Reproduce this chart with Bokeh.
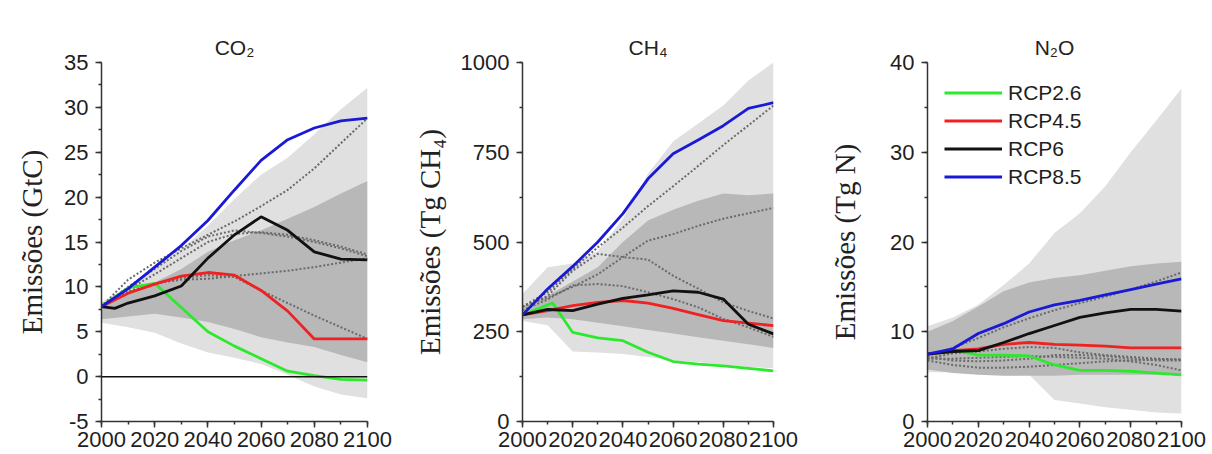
from bokeh.plotting import figure
from bokeh.layouts import row
from bokeh.models import SingleIntervalTicker, Span, Range1d, PrintfTickFormatter
from bokeh.embed import file_html
from bokeh.resources import INLINE

YEARS = [2000, 2010, 2020, 2030, 2040, 2050, 2060, 2070, 2080, 2090, 2100]
SCENARIOS = ["RCP2.6", "RCP4.5", "RCP6", "RCP8.5"]
TITLES = ["CO₂", "CH₄", "N₂O"]
YLABELS = ["Emissões (GtC)", "Emissões (Tg CH₄)", "Emissões (Tg N)"]

# ---------------- CO2 (GtC) ----------------
CO2_LIGHT_LO = [6.0, 5.5, 4.9, 3.7, 2.7, 2.1, 1.4, 0.2, -1.1, -2.0, -2.4]
CO2_LIGHT_HI = [8.3, 10.0, 12.2, 14.2, 16.8, 19.8, 22.5, 24.4, 27.0, 29.8, 32.2]
CO2_DARK_LO = [6.4, 6.7, 7.0, 6.6, 6.1, 5.3, 4.4, 3.8, 3.3, 2.4, 1.6]
CO2_DARK_HI = [8.2, 9.2, 10.5, 12.0, 13.9, 15.2, 16.3, 17.6, 18.9, 20.4, 21.8]
CO2_RCP26 = [7.8, 9.9, 10.4, 7.7, 5.0, 3.4, 2.0, 0.6, 0.1, -0.3, -0.4]
CO2_RCP45 = [7.8, 9.3, 10.3, 11.2, 11.6, 11.3, 9.6, 7.3, 4.2, 4.2, 4.2]
CO2_RCP6_YEARS = [2000, 2005, 2010, 2020, 2030, 2040, 2050, 2060, 2070, 2080, 2090, 2100]
CO2_RCP6 = [7.8, 7.6, 8.2, 9.0, 10.1, 13.2, 15.8, 17.8, 16.3, 13.9, 13.1, 13.0]
CO2_RCP85 = [7.8, 9.8, 12.2, 14.6, 17.4, 20.8, 24.1, 26.4, 27.7, 28.5, 28.8]
CO2_OTHER = [
    [7.8, 10.8, 12.7, 14.3, 15.8, 17.3, 19.0, 20.8, 23.2, 26.0, 28.8],
    [7.8, 10.0, 12.0, 14.0, 15.6, 16.3, 16.0, 15.6, 15.0, 14.3, 13.4],
    [7.8, 9.7, 11.4, 13.2, 15.0, 15.9, 16.1, 15.8, 15.2, 14.5, 13.6],
    [7.8, 9.5, 10.4, 10.8, 10.9, 11.2, 11.5, 11.8, 12.2, 12.7, 13.2],
    [7.8, 9.3, 10.3, 11.0, 11.3, 11.1, 9.6, 8.2, 6.8, 5.5, 4.2],
]

# ---------------- CH4 (Tg CH4) ----------------
CH4_LIGHT_LO = [280, 268, 195, 192, 188, 180, 170, 165, 158, 152, 148]
CH4_LIGHT_HI = [355, 430, 440, 475, 565, 690, 780, 830, 880, 950, 1000]
CH4_DARK_LO = [285, 290, 285, 275, 265, 255, 245, 235, 225, 215, 205]
CH4_DARK_HI = [320, 350, 390, 430, 500, 560, 590, 615, 635, 630, 635]
CH4_RCP26_YEARS = [2000, 2012, 2020, 2030, 2040, 2050, 2060, 2070, 2080, 2090, 2100]
CH4_RCP26 = [297, 330, 248, 233, 225, 193, 167, 160, 155, 148, 141]
CH4_RCP45 = [297, 309, 323, 332, 337, 330, 315, 298, 281, 274, 267]
CH4_RCP6 = [297, 312, 309, 327, 343, 353, 364, 360, 341, 271, 244]
CH4_RCP85 = [297, 369, 432, 500, 579, 676, 746, 784, 824, 872, 888]
CH4_OTHER = [
    [320, 360, 425, 485, 540, 600, 655, 712, 770, 825, 880],
    [320, 345, 375, 410, 458, 504, 522, 545, 565, 580, 595],
    [320, 350, 420, 467, 458, 451, 406, 370, 332, 308, 287],
    [310, 340, 379, 383, 377, 360, 341, 318, 286, 262, 236],
]

# ---------------- N2O (Tg N) ----------------
N2O_LIGHT_LO = [5.5, 5.5, 5.5, 5.4, 5.2, 2.4, 2.0, 1.6, 1.3, 1.0, 0.9]
N2O_LIGHT_HI = [10.6, 11.6, 13.0, 15.2, 17.6, 21.0, 23.2, 26.2, 30.0, 33.5, 37.1]
N2O_DARK_LO = [5.8, 5.4, 5.2, 5.1, 5.1, 5.1, 5.2, 5.2, 5.2, 5.2, 5.2]
N2O_DARK_HI = [10.0, 11.2, 12.8, 14.5, 15.5, 16.0, 16.3, 16.8, 17.3, 17.6, 17.8]
N2O_RCP26 = [7.5, 8.0, 7.4, 7.4, 7.3, 6.3, 5.7, 5.7, 5.6, 5.4, 5.2]
N2O_RCP45 = [7.5, 7.9, 8.1, 8.6, 8.8, 8.6, 8.5, 8.4, 8.2, 8.2, 8.2]
N2O_RCP6 = [7.5, 7.8, 7.9, 8.8, 9.8, 10.7, 11.6, 12.1, 12.5, 12.5, 12.3]
N2O_RCP85 = [7.5, 8.1, 9.8, 10.9, 12.2, 13.0, 13.5, 14.1, 14.7, 15.3, 15.9]
N2O_OTHER = [
    [7.3, 8.2, 9.3, 10.5, 11.5, 12.4, 13.2, 13.9, 14.7, 15.6, 16.6],
    [7.0, 7.6, 7.8, 8.1, 8.3, 8.2, 7.7, 7.4, 7.2, 7.0, 6.9],
    [6.8, 6.3, 6.0, 6.0, 6.1, 6.3, 6.5, 6.7, 6.8, 6.9, 6.9],
    [7.0, 7.0, 7.1, 7.2, 7.3, 7.2, 7.1, 7.0, 6.7, 6.3, 5.7],
    [7.2, 6.8, 6.7, 6.8, 7.0, 7.4, 7.4, 7.3, 7.0, 6.8, 6.8],
]

COLORS = ["#2ee82e", "#ee2222", "#111111", "#1a1ad6"]
LIGHT = "#e0e0e0"
DARK = "#b8b8b8"
DOT = "#6a6a6a"
SANS = "Liberation Sans"
SERIF = "Liberation Serif"

FIG_H = 454


def make_panel(idx, width, left, right, y0, y1, yint, label_standoff,
               light_lo, light_hi, dark_lo, dark_hi, others, series):
    p = figure(width=width, height=FIG_H, output_backend="svg", toolbar_location=None,
               x_range=Range1d(2000, 2100), y_range=Range1d(y0, y1),
               min_border_left=left, min_border_right=right,
               min_border_top=62, min_border_bottom=33)
    p.outline_line_color = None
    p.xgrid.visible = False
    p.ygrid.visible = False
    p.background_fill_color = "white"
    p.border_fill_color = "white"

    p.title.text = TITLES[idx]
    p.title.align = "center"
    p.title.text_font = SANS
    p.title.text_font_size = "21px"
    p.title.text_font_style = "normal"
    p.title.text_color = "#222222"
    p.title.standoff = 7

    p.varea(x=YEARS, y1=light_lo, y2=light_hi, fill_color=LIGHT)
    p.varea(x=YEARS, y1=dark_lo, y2=dark_hi, fill_color=DARK)
    for o in others:
        p.line(YEARS, o, line_color=DOT, line_width=2, line_dash="2 2")

    for (xs, ys), name, col in zip(series, SCENARIOS, COLORS):
        if idx == 2:
            p.line(xs, ys, line_color=col, line_width=2.8, legend_label=name)
        else:
            p.line(xs, ys, line_color=col, line_width=2.8)

    p.xaxis.ticker = SingleIntervalTicker(interval=20, num_minor_ticks=2)
    p.yaxis.ticker = SingleIntervalTicker(interval=yint, num_minor_ticks=2)
    p.yaxis.formatter = PrintfTickFormatter(format="%d")
    for ax in (p.xaxis[0], p.yaxis[0]):
        ax.axis_line_color = "#333333"
        ax.axis_line_width = 1.5
        ax.major_tick_line_color = "#333333"
        ax.major_tick_line_width = 1.5
        ax.minor_tick_line_color = "#333333"
        ax.minor_tick_line_width = 1.5
        ax.major_tick_out = 6
        ax.major_tick_in = 0
        ax.minor_tick_out = 3
        ax.minor_tick_in = 0
        ax.major_label_text_font = SANS
        ax.major_label_text_font_size = "22px"
        ax.major_label_text_color = "#1e1e1e"
    p.xaxis.major_label_standoff = 4
    p.yaxis.major_label_standoff = 7
    p.yaxis.axis_label = YLABELS[idx]
    p.yaxis.axis_label_text_font = SERIF
    p.yaxis.axis_label_text_font_size = "29px"
    p.yaxis.axis_label_text_font_style = "normal"
    p.yaxis.axis_label_text_color = "#222222"
    p.yaxis.axis_label_standoff = label_standoff
    return p


co2 = make_panel(0, 410, 101, 43, -5, 35, 5, 13,
                 CO2_LIGHT_LO, CO2_LIGHT_HI, CO2_DARK_LO, CO2_DARK_HI, CO2_OTHER,
                 [(YEARS, CO2_RCP26), (YEARS, CO2_RCP45), (CO2_RCP6_YEARS, CO2_RCP6), (YEARS, CO2_RCP85)])
co2.add_layout(Span(location=0, dimension="width", line_color="#111111", line_width=1.5))

ch4 = make_panel(1, 405, 109, 42, 0, 1000, 250, 12,
                 CH4_LIGHT_LO, CH4_LIGHT_HI, CH4_DARK_LO, CH4_DARK_HI, CH4_OTHER,
                 [(CH4_RCP26_YEARS, CH4_RCP26), (YEARS, CH4_RCP45), (YEARS, CH4_RCP6), (YEARS, CH4_RCP85)])

n2o = make_panel(2, 395, 112, 29, 0, 40, 10, 26,
                 N2O_LIGHT_LO, N2O_LIGHT_HI, N2O_DARK_LO, N2O_DARK_HI, N2O_OTHER,
                 [(YEARS, N2O_RCP26), (YEARS, N2O_RCP45), (YEARS, N2O_RCP6), (YEARS, N2O_RCP85)])
lg = n2o.legend[0]
lg.location = "top_left"
lg.margin = 17
lg.padding = 1
lg.spacing = 1
lg.glyph_width = 58
lg.glyph_height = 27
lg.label_height = 27
lg.label_standoff = 6
lg.label_text_font = SANS
lg.label_text_font_size = "21px"
lg.label_text_color = "#1e1e1e"
lg.background_fill_alpha = 0
lg.border_line_color = None

layout = row(co2, ch4, n2o)
open("out.html", "w").write(file_html(layout, INLINE))
